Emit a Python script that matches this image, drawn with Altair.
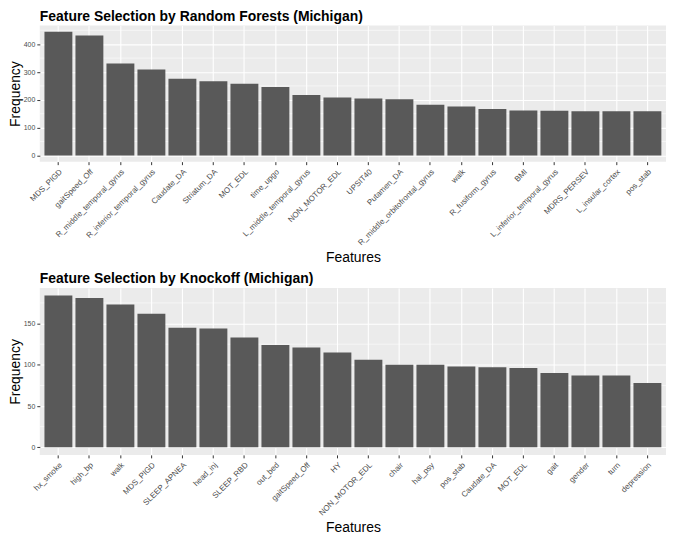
import altair as alt
import pandas as pd

rf_features = ["MDS_PIGD", "gaitSpeed_Off", "R_middle_temporal_gyrus", "R_inferior_temporal_gyrus",
               "Caudate_DA", "Striatum_DA", "MOT_EDL", "time_upgo", "L_middle_temporal_gyrus",
               "NON_MOTOR_EDL", "UPSIT40", "Putamen_DA", "R_middle_orbitofrontal_gyrus", "walk",
               "R_fusiform_gyrus", "BMI", "L_inferior_temporal_gyrus", "MDRS_PERSEV",
               "L_insular_cortex", "pos_stab"]
rf_freq = [445, 431, 331, 309, 276, 267, 258, 246, 217, 208, 205, 202, 182, 176, 167, 162, 161, 159, 159, 159]
rf_ticks = [0, 100, 200, 300, 400]

ko_features = ["hx_smoke", "high_bp", "walk", "MDS_PIGD", "SLEEP_APNEA", "head_inj", "SLEEP_RBD",
               "out_bed", "gaitSpeed_Off", "HY", "NON_MOTOR_EDL", "chair", "hal_psy", "pos_stab",
               "Caudate_DA", "MOT_EDL", "gait", "gender", "turn", "depression"]
ko_freq = [184, 181, 173, 162, 145, 144, 133, 124, 121, 115, 106, 100, 100, 98, 97, 96, 90, 87, 87, 78]
ko_ticks = [0, 50, 100, 150]

FONT = "Liberation Sans"


def panel(title, features, freq, ticks, height):
    df = pd.DataFrame({"feature": features, "freq": freq})
    top = max(freq)
    lo, hi = -0.05 * top, 1.05 * top
    step = ticks[1] - ticks[0]
    minors = [t + step / 2 for t in ticks if t + step / 2 < hi]
    mdf = pd.DataFrame({"v": minors})
    yscale = alt.Scale(domain=[lo, hi], nice=False, zero=False)
    yaxis = alt.Axis(values=ticks, titlePadding=1, labelPadding=2, labelFontSize=7)

    minor = alt.Chart(mdf).mark_rule(color="white", strokeWidth=0.55).encode(
        y=alt.Y("v:Q", scale=yscale, title="Frequency", axis=yaxis)
    )
    bars = alt.Chart(df).mark_bar(color="#595959").encode(
        x=alt.X("feature:N", sort=None, title="Features",
                scale=alt.Scale(paddingInner=0.1, paddingOuter=0.15),
                axis=alt.Axis(labelAngle=-45, bandPosition=0.5, titlePadding=4, labelPadding=3,
                              labelFontSize=8)),
        y=alt.Y("freq:Q", scale=yscale, title="Frequency", axis=yaxis),
    )
    return alt.layer(minor, bars).properties(
        width=630, height=height,
        title=alt.TitleParams(title, anchor="start", frame="group", font=FONT, fontSize=14,
                              fontWeight="bold", color="black", offset=2),
    )


chart = alt.vconcat(
    panel("Feature Selection by Random Forests (Michigan)", rf_features, rf_freq, rf_ticks, 137),
    panel("Feature Selection by Knockoff (Michigan)", ko_features, ko_freq, ko_ticks, 168),
    spacing=7,
).configure(
    padding=0,
    background="white",
).configure_view(
    fill="#EBEBEB", stroke=None,
).configure_axis(
    domain=False, grid=True, gridColor="white", gridWidth=1.1,
    tickColor="#333333", tickSize=3, tickWidth=1,
    labelColor="#4D4D4D", labelFont=FONT,
    titleFont=FONT, titleFontSize=14, titleFontWeight="normal", titleColor="black",
)

chart.save("out.html", embed_options={"renderer": "svg", "actions": False})
